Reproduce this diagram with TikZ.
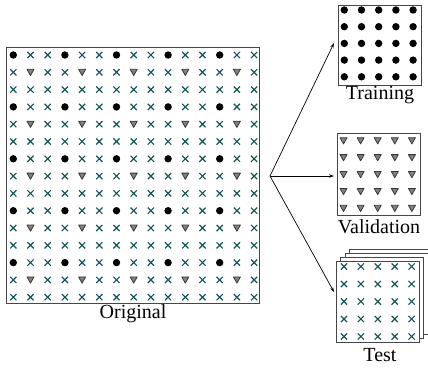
\documentclass[tikz,border=0pt]{standalone}
\usepackage{fontspec}
\setmainfont{Liberation Serif}
\usetikzlibrary{arrows.meta}
\definecolor{crossc}{RGB}{20,85,85}
\definecolor{trifill}{RGB}{130,130,130}
\definecolor{triline}{RGB}{55,55,55}
\definecolor{boxline}{RGB}{70,70,70}
\tikzset{
  pdot/.pic={\fill[black] (0,0) circle[radius=3.7pt];},
  pcross/.pic={\draw[crossc,line width=1.15pt] (-3.1pt,-3.1pt)--(3.1pt,3.1pt) (-3.1pt,3.1pt)--(3.1pt,-3.1pt);},
  ptri/.pic={\draw[triline,fill=trifill,line width=0.8pt,line join=round] (-3.5pt,3pt)--(3.5pt,3pt)--(0pt,-3.2pt)--cycle;},
  box/.style={draw=boxline,line width=0.95pt,fill=white,inner sep=0pt},
  lbl/.style={inner sep=0pt,font=\fontsize{20}{20}\selectfont},
  arr/.style={-{Stealth[length=5pt,width=3.2pt]},line width=0.7pt}
}
\begin{document}
\begin{tikzpicture}[x=1pt,y=-1pt]
\useasboundingbox (0,0) rectangle (428,368);
% original
\node[box,minimum width=253pt,minimum height=256pt] (orig) at (132.5,175) {};
\foreach \i in {0,...,14}{
  \foreach \j in {0,...,14}{
    \pgfmathtruncatemacro\a{mod(\i,3)}
    \pgfmathtruncatemacro\b{mod(\j,3)}
    \pgfmathsetmacro\xx{13.3+17.2*\i}
    \pgfmathsetmacro\yy{55+17.3*\j}
    \ifnum\a=0 \ifnum\b=0
      \pic at (\xx,\yy) {pdot};
    \else
      \pic at (\xx,\yy) {pcross};
    \fi\else
    \ifnum\a=1 \ifnum\b=1
      \pic at (\xx,\yy) {ptri};
    \else
      \pic at (\xx,\yy) {pcross};
    \fi\else
      \pic at (\xx,\yy) {pcross};
    \fi\fi
  }
}
\node[lbl] (origlbl) at (133,314) {Original};
% training
\node[box,minimum width=83pt,minimum height=80pt] (train) at (379.5,45) {};
\foreach \i in {0,...,4}{\foreach \j in {0,...,4}{
  \pic at ({344.3+17.2*\i},{10+16.7*\j}) {pdot};}}
\node[lbl] (trainlbl) at (380,95) {Training};
% validation
\node[box,minimum width=83pt,minimum height=82pt] (val) at (378.5,174) {};
\foreach \i in {0,...,4}{\foreach \j in {0,...,4}{
  \pic at ({343.5+17.1*\i},{140.7+16.9*\j}) {ptri};}}
\node[lbl] (vallbl) at (379,227) {Validation};
% test stack
\node[box,minimum width=83pt,minimum height=81pt] (test3) at (391,289.5) {};
\node[box,minimum width=83pt,minimum height=81pt] (test2) at (386.5,293.5) {};
\node[box,minimum width=83pt,minimum height=81pt] (test1) at (382,297.5) {};
\node[box,minimum width=83pt,minimum height=81pt] (test) at (377.5,301.5) {};
\foreach \i in {0,...,4}{\foreach \j in {0,...,4}{
  \pic at ({344+16.9*\i},{266.5+17.5*\j}) {pcross};}}
\node[lbl] (testlbl) at (380,355) {Test};
% arrows
\coordinate (split) at (270,176);
\coordinate (eTr) at (334,43);
\coordinate (eVa) at (334,176);
\coordinate (eTe) at (334,292);
\draw[arr] (split) -- (eTr);
\draw[arr] (split) -- (eVa);
\draw[arr] (split) -- (eTe);
\end{tikzpicture}
\end{document}
